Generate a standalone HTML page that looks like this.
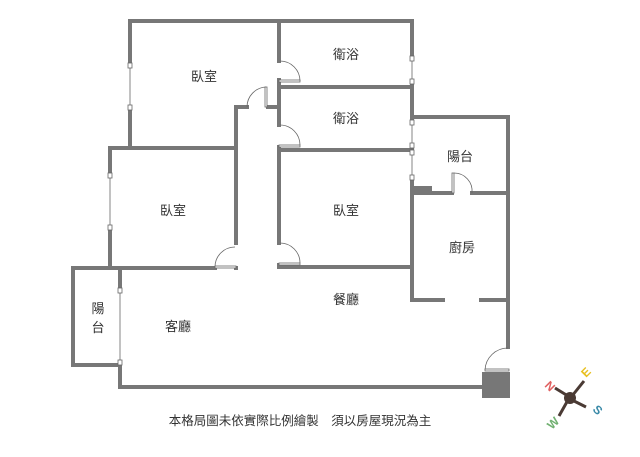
<!DOCTYPE html>
<html><head><meta charset="utf-8"><style>
body{margin:0;background:#fff;width:640px;height:452px;overflow:hidden}
text{font-family:"Liberation Sans","Noto Sans CJK TC",sans-serif;fill:#333}
</style></head><body>
<svg width="640" height="452" viewBox="0 0 640 452" xmlns="http://www.w3.org/2000/svg">
<g stroke="#777" stroke-width="4" fill="none" stroke-linecap="square">
<path d="M130 148 V108 M130 65 V21 H412 V58 M412 82 V122 M412 178 V268"/>
<path d="M279 21 V61 M279 80 V125 M279 147 V243 M279 265 V267 H412"/>
<path d="M279 87 H412 M279 150 H412"/>
<path d="M236 243 V107 H247 M268 107 H279"/>
<path d="M110 148 H236 M110 148 V175 M110 228 V268 M73 268 H215 M236 268 H236"/>
<path d="M412 117 H508 V347 M412 193 H452 M472 193 H508 M412 193 V300 H443 M481 300 H508"/>
<path d="M120 268 V290 M120 362 V387 H482 M73 268 V365 H120"/>
</g>
<rect x="412" y="186" width="20" height="8" fill="#777"/>
<rect x="482" y="372" width="28" height="26" fill="#777"/>
<g stroke="#666" stroke-width="0.8" fill="#fff">
<line x1="130" y1="65" x2="130" y2="108"/><rect x="128" y="63" width="4" height="5"/><rect x="128" y="105" width="4" height="5"/>
<line x1="110" y1="175" x2="110" y2="228"/><rect x="108" y="173" width="4" height="5"/><rect x="108" y="225" width="4" height="5"/>
<line x1="120" y1="290" x2="120" y2="362"/><rect x="118" y="288" width="4" height="5"/><rect x="118" y="360" width="4" height="5"/>
<line x1="412" y1="58" x2="412" y2="82"/><rect x="410" y="56" width="4" height="5"/><rect x="410" y="79" width="4" height="5"/>
<line x1="412" y1="122" x2="412" y2="178"/><rect x="410" y="120" width="4" height="5"/><rect x="410" y="143" width="4" height="5"/><rect x="410" y="150" width="4" height="5"/><rect x="410" y="175" width="4" height="5"/>
<path d="M280 61 A20 20 0 0 1 300 81" fill="none"/><rect x="279" y="80" width="21" height="2"/>
<path d="M280 125 A20 20 0 0 1 300 145" fill="none"/><rect x="279" y="145" width="21" height="2"/>
<path d="M280 243 A20 20 0 0 1 300 263" fill="none"/><rect x="279" y="263" width="21" height="2"/>
<path d="M235 247 A20 20 0 0 0 215 267" fill="none"/><rect x="215" y="266" width="21" height="2"/>
<path d="M266 87 A20 20 0 0 0 247 107" fill="none"/><rect x="265" y="87" width="2" height="20"/>
<path d="M454 173 A18 18 0 0 1 472 193" fill="none"/><rect x="452" y="173" width="2" height="20"/>
<path d="M508 348 A23 23 0 0 0 485 370" fill="none"/><rect x="485" y="369" width="24" height="2"/>
</g>
<g font-size="13" text-anchor="middle">
<text x="204" y="81">臥室</text>
<text x="346" y="59">衛浴</text>
<text x="346" y="123">衛浴</text>
<text x="173" y="215">臥室</text>
<text x="346" y="215">臥室</text>
<text x="460" y="161">陽台</text>
<text x="462" y="252">廚房</text>
<text x="346" y="304">餐廳</text>
<text x="178" y="331">客廳</text>
<text x="98" y="313">陽</text>
<text x="98" y="332">台</text>
</g>
<text x="300" y="425" font-size="12.5" text-anchor="middle">本格局圖未依實際比例繪製　須以房屋現況為主</text>
<g transform="translate(570,398)">
<path d="M-15 -10 L-2 -2 M14 -17 L2 -2 M16 9 L2 2 M-11 18 L-2 2" stroke="#4a3a34" stroke-width="3"/>
<circle r="6" fill="#4a3a34"/>
<text x="-26" y="-12" font-size="12" font-weight="bold" style="fill:#e06060" transform="rotate(45 -26 -12)">N</text>
<text x="16" y="-20" font-size="12" font-weight="bold" style="fill:#e8c020" transform="rotate(-45 16 -20)">E</text>
<text x="22" y="12" font-size="12" font-weight="bold" style="fill:#3a8aa8" transform="rotate(45 22 12)">S</text>
<text x="-18" y="32" font-size="12" font-weight="bold" style="fill:#70b070" transform="rotate(-45 -18 32)">W</text>
</g>
</svg>
</body></html>
